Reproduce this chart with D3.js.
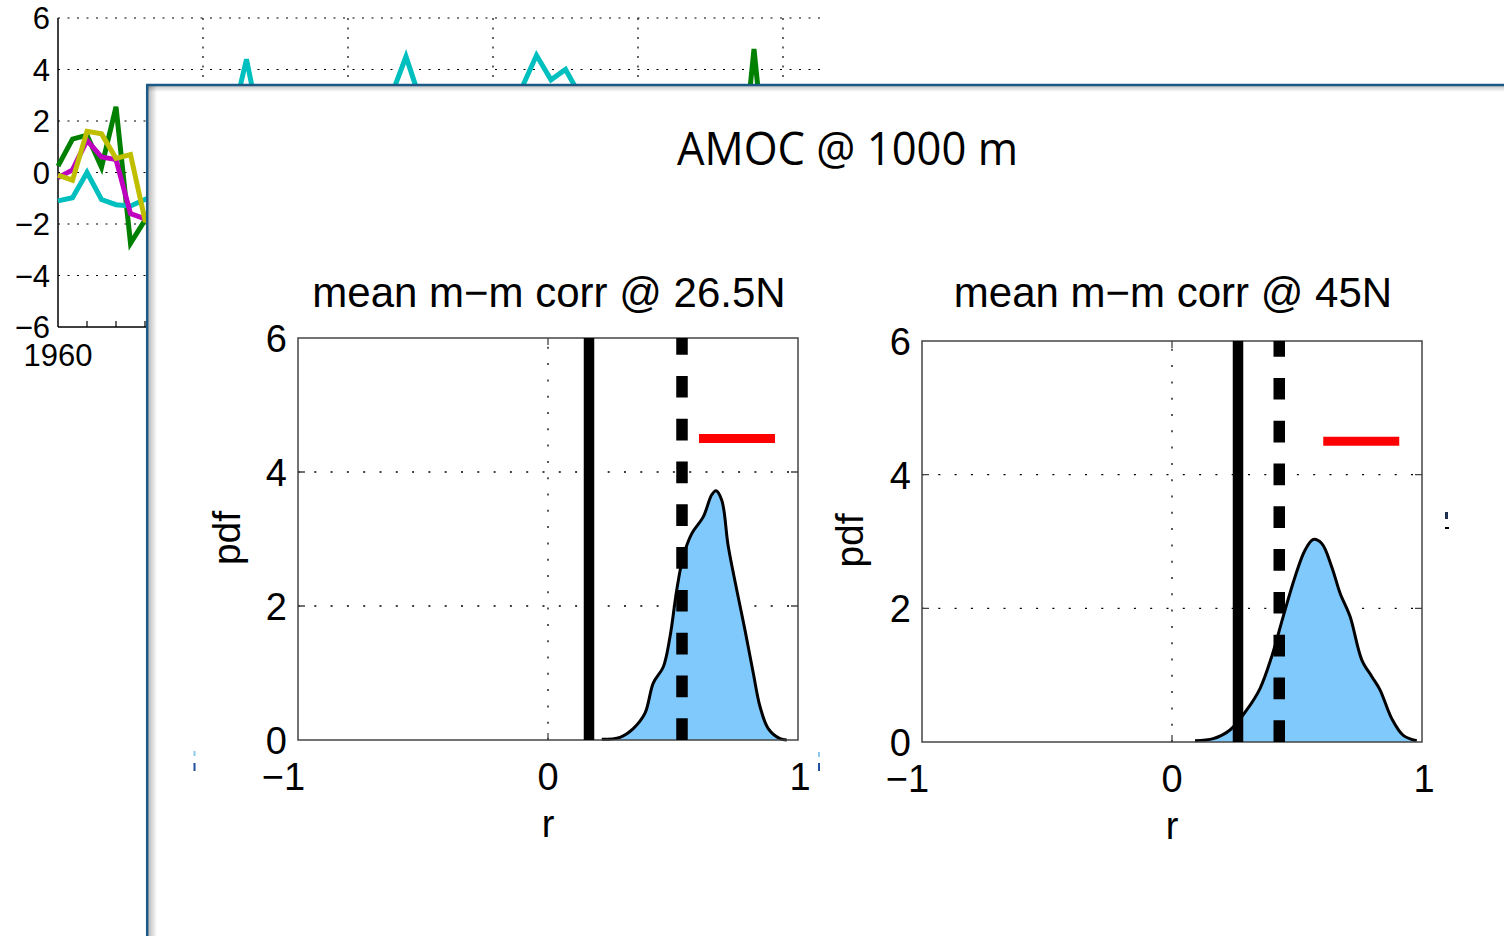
<!DOCTYPE html>
<html>
<head>
<meta charset="utf-8">
<script src="https://cdn.jsdelivr.net/npm/d3@7"></script>
<style>
  body { margin: 0; background: #fff; }
  text { font-family: "Liberation Sans", Arial, Helvetica, sans-serif; fill: #000; }
</style>
</head>
<body>
<div id="chart"></div>
<script>
var width = 1504;
var height = 936;

// background time series (only what shows around the inset)
var greenYears = [1960, 1961, 1962, 1963, 1964, 1965, 1966, 1967, 2007, 2008, 2009];
var greenValues = [0.25, 1.3, 1.45, 0.2, 2.55, -2.75, -1.85, -0.5, -0.8, 4.8, -0.8];
var cyanYears = [1960, 1961, 1962, 1963, 1964, 1965, 1966, 1967, 1972, 1973, 1974, 1983, 1984, 1985, 1992, 1993, 1994, 1995, 1996];
var cyanValues = [-1.1, -0.98, 0.0, -1.05, -1.25, -1.3, -1.05, -0.8, 2.0, 4.4, 1.6, 3.0, 4.5, 2.8, 3.3, 4.55, 3.6, 4.0, 3.0];
var magentaYears = [1960, 1961, 1962, 1963, 1964, 1965, 1966, 1967];
var magentaValues = [-0.2, 0.1, 1.25, 0.6, 0.5, -1.6, -1.8, -1.9];
var yellowYears = [1960, 1961, 1962, 1963, 1964, 1965, 1966, 1967];
var yellowValues = [-0.1, -0.3, 1.6, 1.5, 0.55, 0.7, -1.85, -2.0];
var bgYTicks = [-6, -4, -2, 0, 2, 4, 6];
var bgGridYears = [1970, 1980, 1990, 2000, 2010];

// inset: pdf of mean model-model correlation
var r26 = [0.215, 0.288, 0.341, 0.388, 0.421, 0.461, 0.488, 0.515, 0.541, 0.575, 0.621, 0.655, 0.672, 0.695, 0.721, 0.755, 0.788, 0.821, 0.848, 0.881, 0.928, 0.955];
var pdf26 = [0.01, 0.04, 0.17, 0.40, 0.85, 1.09, 1.54, 2.24, 2.74, 3.08, 3.33, 3.66, 3.72, 3.58, 2.89, 2.24, 1.64, 1.0, 0.5, 0.17, 0.02, 0.0];
var r45 = [0.092, 0.165, 0.232, 0.299, 0.352, 0.399, 0.445, 0.492, 0.532, 0.565, 0.599, 0.639, 0.672, 0.712, 0.759, 0.799, 0.832, 0.879, 0.925, 0.979];
var pdf45 = [0.02, 0.05, 0.18, 0.48, 0.80, 1.28, 1.88, 2.47, 2.87, 3.03, 2.97, 2.62, 2.23, 1.88, 1.23, 0.98, 0.78, 0.35, 0.10, 0.02];
var obsR = [0.164, 0.264];      // solid line
var dashR = [0.536, 0.429];     // dashed line
var redBarR = [[0.604, 0.908], [0.605, 0.909]];
var redBarPdf = [4.5, 4.5];
var insetTitles = ["mean m\u2212m corr @ 26.5N", "mean m\u2212m corr @ 45N"];
var rTicks = [-1, 0, 1];
var pdfTicks = [0, 2, 4, 6];

var svg = d3.select("#chart")
  .append("svg")
  .attr("width", width)
  .attr("height", height)

// ---------- background chart ----------
var bx = d3.scaleLinear().domain([1960, 2013]).range([58, 826.5]);
var by = d3.scaleLinear().domain([-6, 6]).range([327, 18]);
var bg = svg.append("g");

bg.selectAll(".hgrid")
  .data(bgYTicks.filter(d => d > -6))
  .join("line")
    .attr("x1", bx(1960)).attr("x2", bx(2013))
    .attr("y1", d => by(d)).attr("y2", d => by(d))
    .attr("stroke", "#000").attr("stroke-width", 1.2)
    .attr("stroke-dasharray", "2,7.5");

bg.selectAll(".vgrid")
  .data(bgGridYears)
  .join("line")
    .attr("x1", d => bx(d)).attr("x2", d => bx(d))
    .attr("y1", by(6)).attr("y2", by(-6))
    .attr("stroke", "#000").attr("stroke-width", 1.2)
    .attr("stroke-dasharray", "2,7.5");

bg.append("line")
  .attr("x1", bx(1960)).attr("x2", bx(1960))
  .attr("y1", by(6)).attr("y2", by(-6))
  .attr("stroke", "#000").attr("stroke-width", 1.5);
bg.append("line")
  .attr("x1", bx(1960)).attr("x2", bx(2013))
  .attr("y1", by(-6)).attr("y2", by(-6))
  .attr("stroke", "#000").attr("stroke-width", 1.5);

// minor year ticks
bg.selectAll(".xtick")
  .data([1962, 1964, 1966, 1968])
  .join("line")
    .attr("x1", d => bx(d)).attr("x2", d => bx(d))
    .attr("y1", by(-6)).attr("y2", by(-6) - 6)
    .attr("stroke", "#000").attr("stroke-width", 1.2);

bg.selectAll(".ylab")
  .data(bgYTicks)
  .join("text")
    .attr("x", 50)
    .attr("y", d => by(d) + 11)
    .attr("text-anchor", "end")
    .style("font-size", "31px")
    .text(d => d < 0 ? "\u2212" + Math.abs(d) : d);

bg.append("text")
  .attr("x", bx(1960))
  .attr("y", 366)
  .attr("text-anchor", "middle")
  .style("font-size", "31px")
  .text("1960");

var bline = d3.line().x(d => bx(d[0])).y(d => by(d[1]));
var series = [
  { years: greenYears, values: greenValues, color: "#008000" },
  { years: cyanYears, values: cyanValues, color: "#00bfbf" },
  { years: magentaYears, values: magentaValues, color: "#bf00bf" },
  { years: yellowYears, values: yellowValues, color: "#bfbf00" }
];
bg.selectAll(".series")
  .data(series)
  .join("path")
    .attr("d", s => bline(s.years.map((y, i) => [y, s.values[i]])))
    .attr("fill", "none")
    .attr("stroke", s => s.color)
    .attr("stroke-width", 5)
    .attr("stroke-linejoin", "miter");

// ---------- inset panel ----------
var defs = svg.append("defs");
var gl = defs.append("linearGradient").attr("id", "shadowL").attr("x1", 0).attr("x2", 1).attr("y1", 0).attr("y2", 0);
gl.append("stop").attr("offset", 0).attr("stop-color", "#000").attr("stop-opacity", 0.28);
gl.append("stop").attr("offset", 1).attr("stop-color", "#000").attr("stop-opacity", 0);
var gt = defs.append("linearGradient").attr("id", "shadowT").attr("x1", 0).attr("x2", 0).attr("y1", 0).attr("y2", 1);
gt.append("stop").attr("offset", 0).attr("stop-color", "#000").attr("stop-opacity", 0.22);
gt.append("stop").attr("offset", 1).attr("stop-color", "#000").attr("stop-opacity", 0);

var panel = svg.append("g");
panel.append("rect")
  .attr("x", 147).attr("y", 85)
  .attr("width", width).attr("height", height)
  .attr("fill", "#fff");
panel.append("rect")
  .attr("x", 148).attr("y", 86).attr("width", 9).attr("height", height)
  .attr("fill", "url(#shadowL)");
panel.append("rect")
  .attr("x", 148).attr("y", 86).attr("width", width).attr("height", 6)
  .attr("fill", "url(#shadowT)");
panel.append("line")
  .attr("x1", 147.2).attr("x2", 147.2).attr("y1", 84).attr("y2", height)
  .attr("stroke", "#1c5a86").attr("stroke-width", 2.5);
panel.append("line")
  .attr("x1", 146).attr("x2", width).attr("y1", 85).attr("y2", 85)
  .attr("stroke", "#1c5a86").attr("stroke-width", 2.5);

panel.append("text")
  .attr("x", 847.5).attr("y", 165)
  .attr("text-anchor", "middle")
  .attr("textLength", 341)
  .attr("lengthAdjust", "spacingAndGlyphs")
  .style("font-family", "'Open Sans', 'Liberation Sans', sans-serif")
  .style("font-size", "45px")
  .text("AMOC @ 1000 m");

var insets = [
  { xr: [298, 798], yr: [740, 338], r: r26, pdf: pdf26, labelX: 240 },
  { xr: [922, 1422], yr: [742, 341], r: r45, pdf: pdf45, labelX: 863 }
];

insets.forEach(function(p, k) {
  var x = d3.scaleLinear().domain([-1, 1]).range(p.xr);
  var y = d3.scaleLinear().domain([0, 6]).range(p.yr);
  var g = panel.append("g");

  // dotted grid
  g.selectAll(".gy")
    .data([2, 4])
    .join("line")
      .attr("x1", x(-1)).attr("x2", x(1))
      .attr("y1", d => y(d)).attr("y2", d => y(d))
      .attr("stroke", "#000").attr("stroke-width", 1.3)
      .attr("stroke-dasharray", "2,14.3");
  g.append("line")
    .attr("x1", x(0)).attr("x2", x(0))
    .attr("y1", y(0)).attr("y2", y(6))
    .attr("stroke", "#000").attr("stroke-width", 1.3)
    .attr("stroke-dasharray", "2,14.3");

  var pts = p.r.map((d, i) => [d, p.pdf[i]]);
  g.append("path")
    .attr("d", d3.area().x(d => x(d[0])).y0(y(0)).y1(d => y(d[1])).curve(d3.curveCatmullRom)(pts))
    .attr("fill", "#80c9fc");
  g.append("path")
    .attr("d", d3.line().x(d => x(d[0])).y(d => y(d[1])).curve(d3.curveCatmullRom)(pts))
    .attr("fill", "none")
    .attr("stroke", "#000")
    .attr("stroke-width", 3);

  // box and inward ticks
  g.append("rect")
    .attr("x", x(-1)).attr("y", y(6))
    .attr("width", x(1) - x(-1)).attr("height", y(0) - y(6))
    .attr("fill", "none").attr("stroke", "#444").attr("stroke-width", 1.5);
  g.selectAll(".ty")
    .data([2, 4])
    .join("path")
      .attr("d", d => "M" + x(-1) + "," + y(d) + "h7M" + x(1) + "," + y(d) + "h-7")
      .attr("stroke", "#444").attr("stroke-width", 1.3);
  g.append("path")
    .attr("d", "M" + x(0) + "," + y(0) + "v-7M" + x(0) + "," + y(6) + "v7")
    .attr("stroke", "#444").attr("stroke-width", 1.3);

  // observed / reference lines
  g.append("line")
    .attr("x1", x(obsR[k])).attr("x2", x(obsR[k]))
    .attr("y1", y(0)).attr("y2", y(6))
    .attr("stroke", "#000").attr("stroke-width", 10.5);
  g.append("line")
    .attr("x1", x(dashR[k])).attr("x2", x(dashR[k]))
    .attr("y1", y(0)).attr("y2", y(6))
    .attr("stroke", "#000").attr("stroke-width", 11.5)
    .attr("stroke-dasharray", "21.7,21.1");
  g.append("line")
    .attr("x1", x(redBarR[k][0])).attr("x2", x(redBarR[k][1]))
    .attr("y1", y(redBarPdf[k])).attr("y2", y(redBarPdf[k]))
    .attr("stroke", "#ff0000").attr("stroke-width", 9);

  // labels
  g.append("text")
    .attr("x", x(0) + 1).attr("y", 307)
    .attr("text-anchor", "middle")
    .style("font-size", "42px")
    .text(insetTitles[k]);
  g.selectAll(".yl")
    .data(pdfTicks)
    .join("text")
      .attr("x", x(-1) - 11)
      .attr("y", d => y(d) + 14)
      .attr("text-anchor", "end")
      .style("font-size", "38px")
      .text(d => d);
  g.selectAll(".xl")
    .data(rTicks)
    .join("text")
      .attr("x", d => x(d) + (d < 0 ? -14.5 : (d > 0 ? 2 : 0)))
      .attr("y", y(0) + 50)
      .attr("text-anchor", "middle")
      .style("font-size", "38px")
      .text(d => d < 0 ? "\u2212" + Math.abs(d) : d);
  g.append("text")
    .attr("x", x(0)).attr("y", y(0) + 97)
    .attr("text-anchor", "middle")
    .style("font-size", "38px")
    .text("r");
  g.append("text")
    .attr("transform", "translate(" + p.labelX + "," + (y(3) - 1) + ") rotate(-90)")
    .attr("text-anchor", "middle")
    .style("font-size", "39px")
    .text("pdf");
});

// small stray marks in the picture
var specks = [[193.5, 751, 2, 5, "#8cc8f0"], [193.5, 763, 2, 8, "#2050a0"], [818, 752, 2, 5, "#8cc8f0"], [818, 763, 2, 8, "#2050a0"], [1445, 512, 3, 7, "#203050"], [1445, 527, 4, 2, "#000"]];
panel.selectAll(".speck")
  .data(specks)
  .join("rect")
    .attr("x", d => d[0]).attr("y", d => d[1])
    .attr("width", d => d[2]).attr("height", d => d[3])
    .attr("fill", d => d[4]);
</script>
</body>
</html>
